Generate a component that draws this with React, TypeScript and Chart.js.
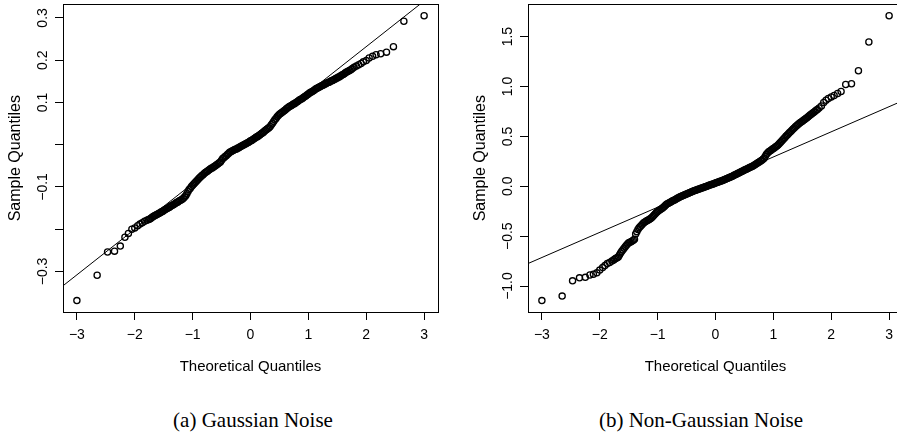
import React, { useEffect, useRef } from "react";
import { Chart, registerables } from "chart.js";

Chart.register(...registerables);

// Theoretical normal quantiles (shared by both panels, read from the x positions of the points)
const theoreticalQuantiles = [
  -3.00, -2.65, -2.47, -2.35, -2.25, -2.17, -2.11, -2.05, -2.00, -1.95, -1.91, -1.87, -1.83, -1.79, -1.76,
  -1.74, -1.72, -1.70, -1.68, -1.66, -1.64, -1.62, -1.60, -1.58, -1.56,
  -1.54, -1.52, -1.50, -1.48, -1.46, -1.44, -1.42, -1.40, -1.38, -1.36,
  -1.34, -1.32, -1.30, -1.28, -1.26, -1.24, -1.22, -1.20, -1.18, -1.16,
  -1.14, -1.12, -1.10, -1.08, -1.06, -1.04, -1.02, -1.00, -0.98, -0.96,
  -0.94, -0.92, -0.90, -0.88, -0.86, -0.84, -0.82, -0.80, -0.78, -0.76,
  -0.74, -0.72, -0.70, -0.68, -0.66, -0.64, -0.62, -0.60, -0.58, -0.56,
  -0.54, -0.52, -0.50, -0.48, -0.46, -0.44, -0.42, -0.40, -0.38, -0.36,
  -0.34, -0.32, -0.30, -0.28, -0.26, -0.24, -0.22, -0.20, -0.18, -0.16,
  -0.14, -0.12, -0.10, -0.08, -0.06, -0.04, -0.02, 0.00, 0.02, 0.04,
  0.06, 0.08, 0.10, 0.12, 0.14, 0.16, 0.18, 0.20, 0.22, 0.24,
  0.26, 0.28, 0.30, 0.32, 0.34, 0.36, 0.38, 0.40, 0.42, 0.44,
  0.46, 0.48, 0.50, 0.52, 0.54, 0.56, 0.58, 0.60, 0.62, 0.64,
  0.66, 0.68, 0.70, 0.72, 0.74, 0.76, 0.78, 0.80, 0.82, 0.84,
  0.86, 0.88, 0.90, 0.92, 0.94, 0.96, 0.98, 1.00, 1.02, 1.04,
  1.06, 1.08, 1.10, 1.12, 1.14, 1.16, 1.18, 1.20, 1.22, 1.24,
  1.26, 1.28, 1.30, 1.32, 1.34, 1.36, 1.38, 1.40, 1.42, 1.44,
  1.46, 1.48, 1.50, 1.52, 1.54, 1.56, 1.58, 1.60, 1.62, 1.64,
  1.66, 1.68, 1.70, 1.72, 1.74,
  1.76, 1.79, 1.83, 1.87, 1.91, 1.95, 2.00, 2.05, 2.11, 2.17, 2.25, 2.35, 2.47, 2.65, 3.00,
];

// (a) Gaussian noise: sample quantiles
const gaussianSample = [
  -0.369, -0.309, -0.254, -0.252, -0.240, -0.219, -0.210, -0.200, -0.197, -0.192, -0.188, -0.185, -0.181, -0.179, -0.177,
  -0.176, -0.174, -0.172, -0.170, -0.168, -0.167, -0.165, -0.164, -0.162, -0.161,
  -0.159, -0.158, -0.156, -0.154, -0.152, -0.151, -0.149, -0.148, -0.146, -0.144,
  -0.143, -0.141, -0.139, -0.137, -0.136, -0.134, -0.132, -0.131, -0.129, -0.127,
  -0.124, -0.121, -0.116, -0.111, -0.106, -0.103, -0.099, -0.096, -0.093, -0.090,
  -0.087, -0.084, -0.081, -0.078, -0.076, -0.073, -0.071, -0.068, -0.066, -0.064,
  -0.062, -0.060, -0.058, -0.056, -0.055, -0.053, -0.051, -0.049, -0.047, -0.045,
  -0.043, -0.041, -0.037, -0.033, -0.031, -0.028, -0.026, -0.023, -0.021, -0.018,
  -0.017, -0.015, -0.014, -0.012, -0.011, -0.010, -0.008, -0.007, -0.005, -0.004,
  -0.002, -0.001, 0.001, 0.002, 0.004, 0.005, 0.007, 0.009, 0.010, 0.012,
  0.014, 0.016, 0.018, 0.019, 0.021, 0.023, 0.025, 0.027, 0.029, 0.032,
  0.034, 0.036, 0.038, 0.040, 0.043, 0.047, 0.051, 0.055, 0.059, 0.062,
  0.066, 0.069, 0.072, 0.074, 0.076, 0.078, 0.080, 0.082, 0.085, 0.087,
  0.089, 0.091, 0.092, 0.094, 0.096, 0.097, 0.099, 0.101, 0.103, 0.105,
  0.107, 0.108, 0.110, 0.112, 0.114, 0.116, 0.118, 0.120, 0.122, 0.124,
  0.125, 0.127, 0.129, 0.131, 0.133, 0.134, 0.136, 0.137, 0.139, 0.140,
  0.141, 0.143, 0.144, 0.146, 0.147, 0.148, 0.150, 0.151, 0.152, 0.154,
  0.155, 0.157, 0.158, 0.160, 0.161, 0.163, 0.165, 0.166, 0.168, 0.170,
  0.172, 0.173, 0.175, 0.176, 0.178,
  0.180, 0.183, 0.186, 0.189, 0.192, 0.196, 0.199, 0.205, 0.209, 0.213, 0.215, 0.219, 0.232, 0.292, 0.305,
];

// (b) Non-Gaussian noise: sample quantiles
const nonGaussianSample = [
  -1.146, -1.101, -0.948, -0.918, -0.913, -0.890, -0.882, -0.868, -0.840, -0.815, -0.795, -0.775, -0.765, -0.750, -0.738,
  -0.728, -0.722, -0.716, -0.710, -0.690, -0.668, -0.652, -0.636, -0.622, -0.605,
  -0.592, -0.578, -0.566, -0.560, -0.555, -0.548, -0.540, -0.530, -0.478, -0.455,
  -0.432, -0.415, -0.402, -0.390, -0.378, -0.365, -0.357, -0.350, -0.344, -0.337,
  -0.330, -0.322, -0.313, -0.300, -0.288, -0.275, -0.263, -0.252, -0.244, -0.236,
  -0.228, -0.220, -0.210, -0.199, -0.188, -0.178, -0.172, -0.165, -0.159, -0.153,
  -0.146, -0.140, -0.134, -0.127, -0.121, -0.115, -0.108, -0.102, -0.097, -0.092,
  -0.087, -0.082, -0.077, -0.072, -0.067, -0.062, -0.057, -0.052, -0.047, -0.043,
  -0.039, -0.034, -0.030, -0.026, -0.022, -0.018, -0.014, -0.009, -0.005, -0.001,
  0.003, 0.007, 0.012, 0.016, 0.020, 0.024, 0.029, 0.033, 0.037, 0.041,
  0.046, 0.050, 0.054, 0.059, 0.064, 0.069, 0.073, 0.078, 0.083, 0.088,
  0.093, 0.098, 0.104, 0.110, 0.116, 0.121, 0.127, 0.133, 0.139, 0.145,
  0.151, 0.156, 0.162, 0.168, 0.174, 0.179, 0.185, 0.191, 0.196, 0.202,
  0.208, 0.216, 0.223, 0.231, 0.239, 0.247, 0.254, 0.262, 0.271, 0.280,
  0.300, 0.320, 0.333, 0.345, 0.353, 0.362, 0.370, 0.379, 0.387, 0.396,
  0.404, 0.414, 0.427, 0.440, 0.452, 0.465, 0.477, 0.490, 0.503, 0.515,
  0.527, 0.538, 0.550, 0.562, 0.573, 0.585, 0.597, 0.608, 0.618, 0.627,
  0.636, 0.644, 0.653, 0.662, 0.670, 0.679, 0.688, 0.697, 0.706, 0.716,
  0.725, 0.734, 0.743, 0.752, 0.762,
  0.770, 0.785, 0.805, 0.840, 0.862, 0.880, 0.895, 0.910, 0.930, 0.950, 1.020, 1.028, 1.158, 1.446, 1.709,
];

// Reference (qqline) parameters for panels (a) and (b)
const lineIntercepts = [0.016, 0.042];
const lineSlopes = [0.108, 0.252];

// Axis ticks and labels
const xTickValues = [-3, -2, -1, 0, 1, 2, 3];
const gaussianYTicks = [-0.3, -0.2, -0.1, 0.0, 0.1, 0.2, 0.3];
const gaussianYLabels = ["\u22120.3", "", "\u22120.1", "", "0.1", "0.2", "0.3"];
const nonGaussianYTicks = [-1.0, -0.5, 0.0, 0.5, 1.0, 1.5];
const nonGaussianYLabels = ["\u22121.0", "\u22120.5", "0.0", "0.5", "1.0", "1.5"];
const captions = ["(a) Gaussian Noise", "(b) Non-Gaussian Noise"];

const SANS = '"Liberation Sans", Arial, Helvetica, sans-serif';
const SERIF = '"Liberation Serif", "DejaVu Serif", serif';

function paddedRange(values: number[]): [number, number] {
  let mn = Infinity;
  let mx = -Infinity;
  for (const v of values) {
    if (v < mn) mn = v;
    if (v > mx) mx = v;
  }
  const pad = (mx - mn) * 0.04;
  return [mn - pad, mx + pad];
}

const boxPlugin = {
  id: "rBox",
  afterDraw(chart: any) {
    const { ctx, chartArea } = chart;
    const l = Math.round(chartArea.left);
    const t = Math.round(chartArea.top);
    const r = Math.round(chartArea.right);
    const b = Math.round(chartArea.bottom);
    ctx.save();
    ctx.strokeStyle = "#000";
    ctx.lineWidth = 1;
    ctx.strokeRect(l + 0.5, t + 0.5, r - l, b - t);
    ctx.restore();
  },
};

function makeYLabelPlugin(values: number[], labels: string[]) {
  return {
    id: "rYLabels",
    afterDraw(chart: any) {
      const scale = chart.scales.y;
      const ctx = chart.ctx;
      ctx.save();
      ctx.fillStyle = "#000";
      ctx.font = `14px ${SANS}`;
      ctx.textAlign = "center";
      ctx.textBaseline = "middle";
      values.forEach((v, i) => {
        if (!labels[i]) return;
        const y = scale.getPixelForValue(v);
        ctx.save();
        ctx.translate(chart.chartArea.left - 20, y);
        ctx.rotate(-Math.PI / 2);
        ctx.fillText(labels[i], 0, 0);
        ctx.restore();
      });
      ctx.restore();
    },
  };
}

type PanelProps = {
  sample: number[];
  yTicks: number[];
  yLabels: string[];
  intercept: number;
  slope: number;
  left: number;
};

function QQPanel({ sample, yTicks, yLabels, intercept, slope, left }: PanelProps) {
  const ref = useRef<HTMLCanvasElement | null>(null);
  useEffect(() => {
    if (!ref.current) return;
    const [xMin, xMax] = paddedRange(theoreticalQuantiles);
    const [yMin, yMax] = paddedRange(sample);
    const points = theoreticalQuantiles.map((x, i) => ({ x, y: sample[i] }));
    const line = [
      { x: xMin, y: intercept + slope * xMin },
      { x: xMax, y: intercept + slope * xMax },
    ];
    const chart = new Chart(ref.current, {
      type: "scatter",
      data: {
        datasets: [
          {
            data: line,
            showLine: true,
            borderColor: "#000",
            borderWidth: 1,
            pointRadius: 0,
            pointHoverRadius: 0,
            fill: false,
          },
          {
            data: points,
            showLine: false,
            pointStyle: "circle",
            pointRadius: 3.1,
            pointHoverRadius: 3.1,
            pointBorderWidth: 1.3,
            pointBorderColor: "#000",
            pointBackgroundColor: "rgba(0,0,0,0)",
          },
        ],
      },
      options: {
        responsive: false,
        animation: false,
        events: [],
        layout: { padding: { top: 1, right: 10, left: 0, bottom: 0 } },
        plugins: {
          legend: { display: false },
          tooltip: { enabled: false },
        },
        scales: {
          x: {
            type: "linear",
            min: xMin,
            max: xMax,
            afterBuildTicks: (s: any) => {
              s.ticks = xTickValues.map((v) => ({ value: v }));
            },
            afterFit: (s: any) => {
              s.height = 78;
            },
            grid: {
              display: true,
              drawOnChartArea: false,
              drawTicks: true,
              tickLength: 8,
              color: "#000",
              lineWidth: 1,
            },
            border: { display: true, color: "#000", width: 1 },
            ticks: {
              color: "#000",
              font: { family: SANS, size: 14 },
              padding: 7,
              maxRotation: 0,
              autoSkip: false,
              callback: (v: any) => (v < 0 ? "\u2212" + Math.abs(v) : String(v)),
            },
            title: {
              display: true,
              text: "Theoretical Quantiles",
              color: "#000",
              font: { family: SANS, size: 15 },
              padding: { top: 0, bottom: 14 },
            },
          },
          y: {
            type: "linear",
            min: yMin,
            max: yMax,
            afterBuildTicks: (s: any) => {
              s.ticks = yTicks.map((v) => ({ value: v }));
            },
            afterFit: (s: any) => {
              s.width = 63;
            },
            grid: {
              display: true,
              drawOnChartArea: false,
              drawTicks: true,
              tickLength: 8,
              color: "#000",
              lineWidth: 1,
            },
            border: { display: true, color: "#000", width: 1 },
            ticks: { display: false },
            title: {
              display: true,
              text: "Sample Quantiles",
              color: "#000",
              font: { family: SANS, size: 16 },
              padding: { top: 6, bottom: 0 },
            },
          },
        },
      },
      plugins: [boxPlugin, makeYLabelPlugin(yTicks, yLabels)],
    } as any);
    return () => chart.destroy();
  }, []);
  return (
    <canvas
      ref={ref}
      width={448}
      height={390}
      style={{ position: "absolute", left, top: 0, display: "block" }}
    />
  );
}

export default function App() {
  const captionStyle: React.CSSProperties = {
    position: "absolute",
    top: 406,
    width: 400,
    textAlign: "center",
    fontFamily: SERIF,
    fontSize: 21,
    lineHeight: "28px",
    color: "#000",
    whiteSpace: "nowrap",
  };
  return (
    <div
      style={{
        position: "fixed",
        left: 0,
        top: 0,
        width: 897,
        height: 439,
        overflow: "hidden",
        background: "#fff",
      }}
    >
      <QQPanel
        sample={gaussianSample}
        yTicks={gaussianYTicks}
        yLabels={gaussianYLabels}
        intercept={lineIntercepts[0]}
        slope={lineSlopes[0]}
        left={0}
      />
      <QQPanel
        sample={nonGaussianSample}
        yTicks={nonGaussianYTicks}
        yLabels={nonGaussianYLabels}
        intercept={lineIntercepts[1]}
        slope={lineSlopes[1]}
        left={465}
      />
      <div style={{ ...captionStyle, left: 53 }}>{captions[0]}</div>
      <div style={{ ...captionStyle, left: 501 }}>{captions[1]}</div>
    </div>
  );
}
